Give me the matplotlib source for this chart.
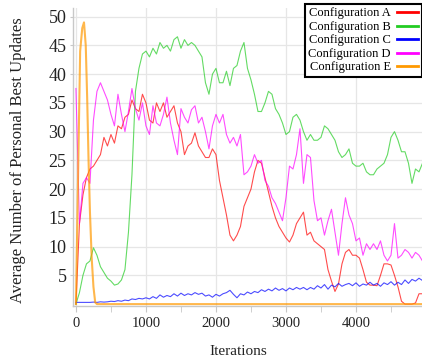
import matplotlib.pyplot as plt
from matplotlib.lines import Line2D
from matplotlib.ticker import MultipleLocator

plt.rcParams['font.family'] = ['Liberation Serif', 'DejaVu Serif']

# sampled every 50 iterations
iterations = list(range(0, 5000, 50))

config_a = [0, 14, 19, 22, 23.5, 24, 25, 26, 29, 27.5,
            29.5, 28, 31, 30.5, 32.5, 33, 35.5, 34, 33.5, 36.5,
            35, 32, 31.5, 35, 33.5, 35, 32.5, 33.5, 34.5, 31.5,
            30, 26, 27.5, 28, 29.8, 27.5, 26.5, 25.5, 25.5, 27,
            26, 21.5, 18.5, 15.5, 12, 11, 12, 13.5, 17, 18.5,
            20, 23, 25, 24.5, 22, 19.5, 17, 15, 13.5, 12.5,
            11.5, 10.8, 12, 14, 15, 16, 12, 12.5, 11, 10.5,
            10, 9.5, 6, 4, 2.2, 3.5, 7, 9, 9.5, 8.5,
            8.5, 8, 6, 3.8, 3.3, 3.3, 3.2, 5, 7, 7,
            6.8, 5, 3, 0.5, 0, 0, 0, 0.2, 1.8, 1.8]

config_b = [0, 2, 5, 7, 7.5, 9.8, 8.5, 6.5, 5.5, 4.5,
            4, 3.3, 3.5, 4.2, 6, 12.5, 22.5, 37, 41, 43.5,
            44, 43, 44.5, 43.5, 45.5, 44.5, 45, 44, 46, 46.5,
            44.5, 46, 45, 45.5, 45, 44, 43, 38.5, 36.5, 40,
            41, 38.5, 38.5, 40.5, 38, 41, 41.5, 44, 45.5, 41,
            39, 36.5, 33.5, 33.5, 35, 37, 36.5, 34, 33, 31.5,
            29.5, 30, 32.5, 33, 32, 30, 28.5, 29.5, 28.5, 28.5,
            29, 31, 30.5, 29.5, 28.5, 26.5, 25.5, 26, 27, 24.5,
            24, 24, 24.5, 23, 22.5, 22.5, 23.5, 24, 24.5, 26,
            29, 30, 28.5, 26.5, 26.5, 24.5, 21, 23.5, 23, 24.5]

config_c = [0.3, 0.3, 0.3, 0.3, 0.3, 0.35, 0.3, 0.4, 0.35, 0.4,
            0.5, 0.45, 0.6, 0.5, 0.7, 0.6, 0.9, 0.8, 1.0, 0.9,
            1.1, 0.9, 1.3, 1.0, 1.6, 1.2, 1.5, 1.3, 1.8, 1.4,
            1.9, 1.5, 1.8, 1.6, 2.0, 1.7, 1.9, 1.4, 1.6, 1.2,
            1.7, 1.4, 1.8, 2.0, 2.4, 1.7, 1.1, 1.8, 1.6, 2.1,
            1.8, 2.2, 2.0, 2.5, 2.2, 2.6, 2.3, 2.8, 2.4, 2.7,
            2.3, 2.8, 2.5, 2.9, 2.6, 2.9, 2.5, 2.9, 2.6, 3.2,
            2.8, 3.4, 2.6, 3.3, 3.0, 3.6, 3.1, 3.4, 3.6, 3.2,
            3.7, 3.1, 3.5, 3.3, 3.8, 3.3, 3.6, 3.1, 3.7, 3.4,
            3.9, 3.3, 3.8, 3.4, 4.2, 3.6, 4.3, 4.0, 4.5, 4.1]

config_d = [37.5, 14, 21, 22, 21, 32, 37, 38.5, 37, 35.5,
            33, 31, 36.5, 33, 30, 33.5, 37.5, 34, 32, 35,
            31, 29.5, 34.5, 31.5, 31, 33, 36, 31.5, 28.5, 26,
            34, 32.5, 31.5, 33.8, 34.5, 31.5, 32.5, 30, 27, 31,
            33, 31.5, 33, 29.5, 28, 29, 27.5, 29.5, 22.5, 23,
            24, 26, 24.5, 25, 21.5, 20.5, 18.5, 17.5, 16, 14.5,
            18.5, 24, 23.5, 26, 30.5, 21, 26, 25.5, 18, 14.5,
            15, 12, 14.5, 16.5, 12.5, 8.5, 14, 18.5, 15.5, 14,
            11, 11.5, 8.5, 10.5, 9.5, 10.5, 9.5, 11, 8.5, 7.5,
            8.5, 14, 8, 8.5, 9.5, 9, 8, 9, 8.5, 7.5]

# config E only spikes at the start, then stays at zero
e_iterations = [0, 30, 60, 90, 115, 140, 160, 180, 200, 225, 250, 275, 300, 4950]
config_e = [0, 22, 44, 48, 49, 45, 36, 25, 16, 8, 3, 0.3, 0, 0]

labels = ['Configuration A', 'Configuration B', 'Configuration C',
          'Configuration D', 'Configuration E']
colors = ['#ff0000', '#22cc22', '#0000ff', '#ff00ff', '#ff9900']

fig = plt.figure(figsize=(4.22, 3.64), dpi=100)
ax = fig.add_axes([0.174, 0.159, 0.826, 0.819])

series = [(iterations, config_a), (iterations, config_b), (iterations, config_c),
          (iterations, config_d), (e_iterations, config_e)]
for (xs, ys), c in zip(series, colors):
    lw = 1.5 if c == '#ff9900' else 0.8
    ax.plot(xs, ys, color=c, lw=lw, alpha=0.7)

ax.set_xlim(-36, 4943)
ax.set_ylim(-0.35, 51.5)
ax.xaxis.set_major_locator(MultipleLocator(1000))
ax.xaxis.set_minor_locator(MultipleLocator(500))
ax.set_yticks(range(5, 51, 5))

ax.grid(True, which='major', color='#e6e6e6', lw=0.9)
ax.set_axisbelow(True)
for side in ['top', 'right']:
    ax.spines[side].set_visible(False)
for side in ['left', 'bottom']:
    ax.spines[side].set_color('#c8c8c8')
    ax.spines[side].set_linewidth(1)

ax.tick_params(axis='x', which='both', colors='#c8c8c8', labelcolor='#222222',
               labelsize=10.5, length=4, pad=4)
ax.tick_params(axis='y', colors='#c8c8c8', labelcolor='#222222',
               labelsize=13, length=2, pad=3)

ax.set_xlabel('Iterations', fontsize=11, color='#222222')
ax.xaxis.set_label_coords(0.473, -0.13)
ax.set_ylabel('Average Number of Personal Best Updates', fontsize=12, color='#222222')
ax.yaxis.set_label_coords(-0.137, 0.49)

handles = [Line2D([], [], color=c, lw=2) for c in colors]
leg = ax.legend(handles, labels, loc='upper right', bbox_to_anchor=(1.0, 0.99, 0, 0),
                bbox_transform=fig.transFigure, fontsize=9, markerfirst=False,
                frameon=True, fancybox=False, framealpha=1, edgecolor='black',
                borderpad=0.3, labelspacing=0.12, handlelength=1.7,
                handletextpad=0.5, borderaxespad=0)
leg.get_frame().set_linewidth(1.5)

fig.savefig('out.png', dpi=100)
